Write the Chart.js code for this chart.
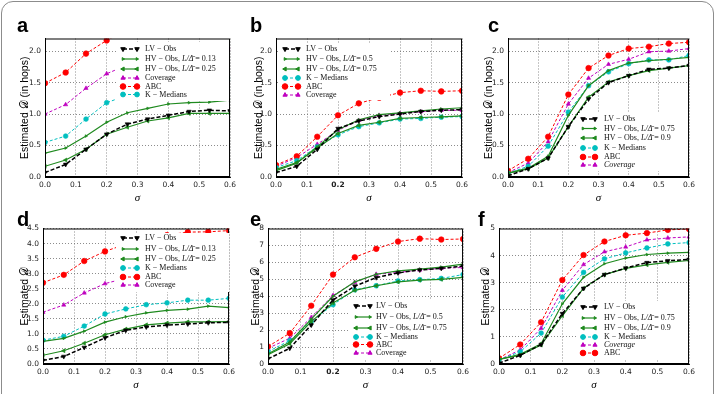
<!DOCTYPE html>
<html>
<head>
<meta charset="utf-8">
<script src="https://cdn.jsdelivr.net/npm/chart.js@4.4.1/dist/chart.umd.min.js"></script>
<style>
	body { margin: 0; width: 718px; height: 394px; background: #fff; position: relative; overflow: hidden; }
	.frame { position: absolute; left: 1px; top: 1px; width: 711px; height: 420px; border: 1.5px solid #8c8c8c; border-radius: 12px; }
	.panel { position: absolute; }
	.tag { position: absolute; font: bold 20px 'Liberation Sans', Arial, sans-serif; line-height: 1; color: #000; }
</style>
</head>
<body>
<div class="frame"></div>

<script>
const sigma = [0, 0.067, 0.133, 0.2, 0.267, 0.333, 0.4, 0.467, 0.533, 0.6];

// panel a
const aLV = [0.07, 0.2, 0.44, 0.68, 0.84, 0.92, 0.98, 1.04, 1.06, 1.05];
const aHV1 = [0.38, 0.46, 0.65, 0.87, 1.02, 1.09, 1.16, 1.18, 1.19, 1.22];
const aHV2 = [0.17, 0.27, 0.44, 0.68, 0.79, 0.89, 0.94, 1.01, 1.01, 1.01];
const aCov = [1.0, 1.15, 1.41, 1.64, 1.78, 1.88, 1.94, 1.98, 2.0, 2.03];
const aABC = [1.49, 1.66, 1.96, 2.17, 2.35, 2.48, 2.58, 2.64, 2.68, 2.72];
const aKM = [0.55, 0.65, 0.92, 1.18, 1.3, 1.38, 1.44, 1.49, 1.52, 1.56];

// panel b
const bLV = [0.07, 0.17, 0.44, 0.77, 0.89, 0.96, 1.0, 1.04, 1.06, 1.07];
const bHV1 = [0.1, 0.22, 0.48, 0.75, 0.91, 0.99, 1.02, 1.05, 1.08, 1.1];
const bHV2 = [0.12, 0.23, 0.46, 0.69, 0.82, 0.87, 0.93, 0.945, 0.955, 0.97];
const bKM = [0.15, 0.26, 0.48, 0.67, 0.8, 0.86, 0.92, 0.93, 0.95, 0.96];
const bABC = [0.19, 0.33, 0.64, 0.98, 1.17, 1.26, 1.34, 1.37, 1.36, 1.37];
const bCov = [0.17, 0.31, 0.52, 0.74, 0.9, 0.98, 1.01, 1.04, 1.06, 1.06];

// panel c
const cLV = [0.02, 0.13, 0.3, 0.8, 1.24, 1.5, 1.61, 1.71, 1.73, 1.77];
const cHV1 = [0.06, 0.14, 0.33, 0.98, 1.45, 1.69, 1.81, 1.85, 1.87, 1.9];
const cHV2 = [0.06, 0.13, 0.3, 0.8, 1.27, 1.51, 1.61, 1.69, 1.73, 1.77];
const cKM = [0.06, 0.17, 0.49, 1.03, 1.45, 1.67, 1.8, 1.86, 1.86, 1.93];
const cABC = [0.1, 0.29, 0.64, 1.31, 1.73, 1.93, 2.04, 2.07, 2.12, 2.14];
const cCov = [0.07, 0.22, 0.56, 1.16, 1.57, 1.79, 1.87, 1.99, 2.0, 2.04];

// panel d
const dLV = [0.12, 0.25, 0.55, 0.87, 1.12, 1.23, 1.29, 1.33, 1.37, 1.38];
const dHV1 = [0.75, 0.85, 1.09, 1.39, 1.57, 1.7, 1.78, 1.82, 1.92, 1.87];
const dHV2 = [0.29, 0.44, 0.69, 0.97, 1.16, 1.3, 1.36, 1.4, 1.4, 1.41];
const dKM = [0.79, 0.92, 1.26, 1.66, 1.83, 1.97, 2.03, 2.12, 2.12, 2.18];
const dABC = [2.7, 2.96, 3.42, 3.74, 3.98, 4.15, 4.28, 4.38, 4.39, 4.43];
const dCov = [1.72, 1.96, 2.36, 2.67, 2.85, 3.0, 3.1, 3.18, 3.23, 3.28];

// panel e
const eLV = [0.3, 0.93, 2.3, 3.78, 4.6, 5.1, 5.38, 5.55, 5.65, 5.78];
const eHV1 = [0.6, 1.3, 2.65, 4.0, 4.85, 5.3, 5.5, 5.6, 5.72, 5.9];
const eHV2 = [0.55, 1.2, 2.5, 3.6, 4.35, 4.62, 4.85, 4.95, 5.0, 5.12];
const eKM = [0.73, 1.38, 2.5, 3.5, 4.38, 4.62, 4.9, 4.98, 5.05, 5.28];
const eABC = [1.03, 1.82, 3.44, 5.28, 6.3, 6.8, 7.23, 7.4, 7.35, 7.38];
const eCov = [0.93, 1.52, 2.75, 4.05, 4.82, 5.3, 5.4, 5.55, 5.65, 5.7];

// panel f
const fLV = [0.03, 0.32, 0.72, 1.86, 2.79, 3.3, 3.54, 3.74, 3.81, 3.86];
const fHV1 = [0.17, 0.36, 0.75, 2.22, 3.2, 3.7, 3.91, 4.04, 4.09, 4.12];
const fHV2 = [0.17, 0.33, 0.7, 1.78, 2.8, 3.3, 3.53, 3.66, 3.75, 3.82];
const fKM = [0.15, 0.45, 1.14, 2.47, 3.38, 3.88, 4.1, 4.28, 4.43, 4.48];
const fCov = [0.15, 0.52, 1.32, 2.72, 3.67, 4.14, 4.32, 4.58, 4.65, 4.69];
const fABC = [0.21, 0.72, 1.54, 3.1, 4.02, 4.52, 4.75, 4.83, 4.95, 4.98];

const xTicks = ['0.0', '0.1', '0.2', '0.3', '0.4', '0.5', '0.6'];

const green = '#1f8a1f';
const styles = {
	LV: { color: '#000', dash: [4, 2], width: 1.5, pointStyle: 'triangle', rotation: 180, radius: 2.6 },
	HV1: { color: green, dash: [], width: 1.2, pointStyle: 'triangle', rotation: 90, radius: 1.6 },
	HV2: { color: green, dash: [], width: 1.2, pointStyle: 'triangle', rotation: 270, radius: 2.3 },
	KM: { color: '#00bfbf', dash: [3, 2], width: 1, pointStyle: 'circle', radius: 2.4 },
	ABC: { color: '#ff0000', dash: [3, 2], width: 1, pointStyle: 'circle', radius: 2.8 },
	Cov: { color: '#bf00bf', dash: [3, 2], width: 1, pointStyle: 'triangle', rotation: 0, radius: 2.4 },
};

const hopsTitle = 'Estimated \u{1D49F} (in hops)';
const plainTitle = 'Estimated \u{1D49F}';

const panels = [
	{ tag: 'a', tagPos: [17, 15], box: [45, 232, 38, 177], yMax: 2.2, yStep: 0.5, dec: 1, title: hopsTitle, titleX: 25,
		ratios: ['0.13', '0.25'], series: { LV: aLV, HV1: aHV1, HV2: aHV2, Cov: aCov, ABC: aABC, KM: aKM },
		order: ['LV', 'HV1', 'HV2', 'Cov', 'ABC', 'KM'],
		legend: { bg: [116, 229, 42, 101], x0: 123, x1: 137, tx: 145, rows: [49, 59, 69, 78, 86.5, 94.5] } },
	{ tag: 'b', tagPos: [250, 15], box: [276, 464, 38, 177], yMax: 2.2, yStep: 0.5, dec: 1, title: hopsTitle, titleX: 259, boldTwo: true,
		ratios: ['0.5', '0.75'], series: { LV: bLV, HV1: bHV1, HV2: bHV2, KM: bKM, ABC: bABC, Cov: bCov },
		order: ['LV', 'HV1', 'HV2', 'KM', 'ABC', 'Cov'],
		legend: { bg: [280, 390, 43, 100], x0: 285, x1: 298, tx: 306, rows: [49, 59, 69, 78, 86.5, 95] } },
	{ tag: 'c', tagPos: [488, 15], box: [508, 691, 38, 177], yMax: 2.2, yStep: 0.5, dec: 1, title: hopsTitle, titleX: 489,
		ratios: ['0.75', '0.9'], italicCov: true, series: { LV: cLV, HV1: cHV1, HV2: cHV2, KM: cKM, ABC: cABC, Cov: cCov },
		order: ['LV', 'HV1', 'HV2', 'KM', 'ABC', 'Cov'],
		legend: { bg: [578, 688, 113, 171], x0: 583, x1: 595, tx: 604, rows: [119, 128.5, 138, 148, 157, 165] } },
	{ tag: 'd', tagPos: [17, 209], box: [43, 231, 228, 364], yMax: 4.5, yStep: 0.5, dec: 1, title: plainTitle, titleX: 25,
		ratios: ['0.13', '0.25'], series: { LV: dLV, HV1: dHV1, HV2: dHV2, KM: dKM, ABC: dABC, Cov: dCov },
		order: ['LV', 'HV1', 'HV2', 'KM', 'ABC', 'Cov'],
		legend: { bg: [116, 229, 233, 292], x0: 123, x1: 137, tx: 145, rows: [238, 249, 259, 268, 277, 285] } },
	{ tag: 'e', tagPos: [250, 209], box: [268, 465, 228, 364], yMax: 8, yStep: 1, dec: 0, title: plainTitle, titleX: 256, boldTwo: true,
		ratios: ['0.5', '0.75'], series: { LV: eLV, HV1: eHV1, HV2: eHV2, KM: eKM, ABC: eABC, Cov: eCov },
		order: ['LV', 'HV1', 'HV2', 'KM', 'ABC', 'Cov'],
		legend: { bg: [350, 462, 300, 359], x0: 356, x1: 370, tx: 376, rows: [306, 317, 328, 337, 344.5, 353] } },
	{ tag: 'f', tagPos: [478, 209], box: [499, 691, 228, 364], yMax: 5, yStep: 1, dec: 0, title: plainTitle, titleX: 486,
		ratios: ['0.75', '0.9'], italicCov: true, series: { LV: fLV, HV1: fHV1, HV2: fHV2, KM: fKM, Cov: fCov, ABC: fABC },
		order: ['LV', 'HV1', 'HV2', 'KM', 'Cov', 'ABC'],
		legend: { bg: [578, 688, 301, 359], x0: 583, x1: 595, tx: 604, rows: [307, 318, 328, 337, 345, 353] } },
];

const AXIS_W = 46;
const AXIS_H = 30;
const PAD_T = 8;
const PAD_R = 8;

function labelParts(key, panel) {
	if (key === 'LV') return [['LV \u2212 Obs', false]];
	if (key === 'HV1' || key === 'HV2') {
		const r = key === 'HV1' ? panel.ratios[0] : panel.ratios[1];
		return [['HV \u2212 Obs, ', false], ['L/\u0394\u0304', true], [' = ' + r, false]];
	}
	if (key === 'KM') return [['K \u2212 Medians', false]];
	if (key === 'ABC') return [['ABC', false]];
	return [['Coverage', !!panel.italicCov]];
}

function drawMarker(ctx, st, x, y) {
	ctx.save();
	ctx.setLineDash([]);
	ctx.fillStyle = st.color;
	ctx.strokeStyle = st.color;
	Chart.helpers.drawPoint(ctx, { pointStyle: st.pointStyle, rotation: st.rotation || 0, radius: st.radius, borderWidth: 0.6 }, x, y);
	ctx.restore();
}

function makePanel(panel) {
	const [L, R, T, B] = panel.box;
	const left = L - AXIS_W;
	const top = T - PAD_T;
	const width = AXIS_W + (R - L) + PAD_R;
	const height = PAD_T + (B - T) + AXIS_H;

	const wrap = document.createElement('div');
	wrap.className = 'panel';
	wrap.style.left = left + 'px';
	wrap.style.top = top + 'px';
	wrap.style.width = width + 'px';
	wrap.style.height = height + 'px';
	const canvas = document.createElement('canvas');
	canvas.width = width;
	canvas.height = height;
	wrap.appendChild(canvas);
	document.body.appendChild(wrap);

	const tag = document.createElement('div');
	tag.className = 'tag';
	tag.textContent = panel.tag;
	tag.style.left = panel.tagPos[0] + 'px';
	tag.style.top = panel.tagPos[1] + 'px';
	document.body.appendChild(tag);

	const datasets = panel.order.map((key) => {
		const st = styles[key];
		return {
			label: key,
			data: sigma.map((s, i) => ({ x: s, y: panel.series[key][i] })),
			borderColor: st.color,
			backgroundColor: st.color,
			borderWidth: st.width,
			borderDash: st.dash,
			pointStyle: st.pointStyle,
			rotation: st.rotation || 0,
			pointRadius: st.radius,
			pointBorderWidth: 0.6,
			pointBackgroundColor: st.color,
			pointBorderColor: st.color,
			tension: 0,
			clip: 0,
		};
	});

	const frameAndLegend = {
		id: 'frameAndLegend',
		afterDatasetsDraw(chart) {
			const { ctx, chartArea: a } = chart;
			ctx.save();
			ctx.setLineDash([]);
			ctx.strokeStyle = '#000';
			ctx.lineWidth = 1;
			ctx.strokeRect(a.left + 0.5, a.top + 0.5, a.right - a.left - 1, a.bottom - a.top - 1);

			const lg = panel.legend;
			ctx.fillStyle = '#fff';
			ctx.fillRect(lg.bg[0] - left, lg.bg[2] - top, lg.bg[1] - lg.bg[0], lg.bg[3] - lg.bg[2]);
			panel.order.forEach((key, i) => {
				const st = styles[key];
				const y = lg.rows[i] - top;
				const x0 = lg.x0 - left;
				const x1 = lg.x1 - left;
				ctx.save();
				ctx.strokeStyle = st.color;
				ctx.lineWidth = st.width;
				ctx.setLineDash(st.dash);
				ctx.beginPath();
				ctx.moveTo(x0, y);
				ctx.lineTo(x1, y);
				ctx.stroke();
				ctx.restore();
				drawMarker(ctx, st, x0, y);
				drawMarker(ctx, st, x1, y);
				let tx = lg.tx - left;
				ctx.fillStyle = '#111';
				ctx.textBaseline = 'middle';
				labelParts(key, panel).forEach(([text, italic]) => {
					ctx.font = (italic ? 'italic ' : '') + '8px "Liberation Serif", "DejaVu Serif", serif';
					ctx.fillText(text, tx, y);
					tx += ctx.measureText(text).width;
				});
			});
			ctx.restore();
		},
	};

	const tickFont = (c) => ({
		family: 'DejaVu Sans',
		size: 7.5,
		weight: panel.boldTwo && c.tick && Math.abs(c.tick.value - 0.2) < 1e-6 ? 'bold' : 'normal',
	});

	new Chart(canvas, {
		type: 'line',
		data: { datasets },
		plugins: [frameAndLegend],
		options: {
			responsive: false,
			animation: false,
			layout: { autoPadding: false, padding: { left: 0, top: PAD_T, right: PAD_R, bottom: 0 } },
			plugins: { legend: { display: false }, tooltip: { enabled: false } },
			scales: {
				x: {
					type: 'linear',
					min: 0,
					max: 0.6,
					afterFit: (s) => { s.height = AXIS_H; },
					afterBuildTicks: (s) => { s.ticks = xTicks.map((t) => ({ value: parseFloat(t) })); },
					ticks: {
						padding: 4,
						color: '#222',
						font: tickFont,
						maxRotation: 0,
						autoSkip: false,
						callback: (v) => v.toFixed(1),
					},
					grid: { color: '#6e6e6e', lineWidth: 0.8, drawTicks: false },
					border: { display: true, color: '#000', width: 1, dash: [1, 2] },
					title: {
						display: true,
						text: '\u03C3',
						color: '#000',
						font: { family: 'Liberation Serif', style: 'italic', size: 11 },
						padding: { top: 0, bottom: 2 },
					},
				},
				y: {
					min: 0,
					max: panel.yMax,
					afterFit: (s) => { s.width = AXIS_W; },
					afterBuildTicks: (s) => {
						s.ticks = s.ticks.filter((t) => Math.abs(t.value / panel.yStep - Math.round(t.value / panel.yStep)) < 1e-6);
					},
					ticks: {
						stepSize: panel.yStep,
						padding: 4,
						color: '#222',
						font: { family: 'DejaVu Sans', size: 7.5 },
						callback: (v) => v.toFixed(panel.dec),
					},
					grid: { color: '#6e6e6e', lineWidth: 0.8, drawTicks: false },
					border: { display: true, color: '#000', width: 1, dash: [1, 2] },
					title: {
						display: true,
						text: panel.title,
						color: '#000',
						font: { family: 'Liberation Sans', size: 10.5, lineHeight: 1.2 },
						padding: { top: panel.titleX - left - 6.3, bottom: 0 },
					},
				},
			},
		},
	});
}

panels.forEach(makePanel);
</script>
</body>
</html>
